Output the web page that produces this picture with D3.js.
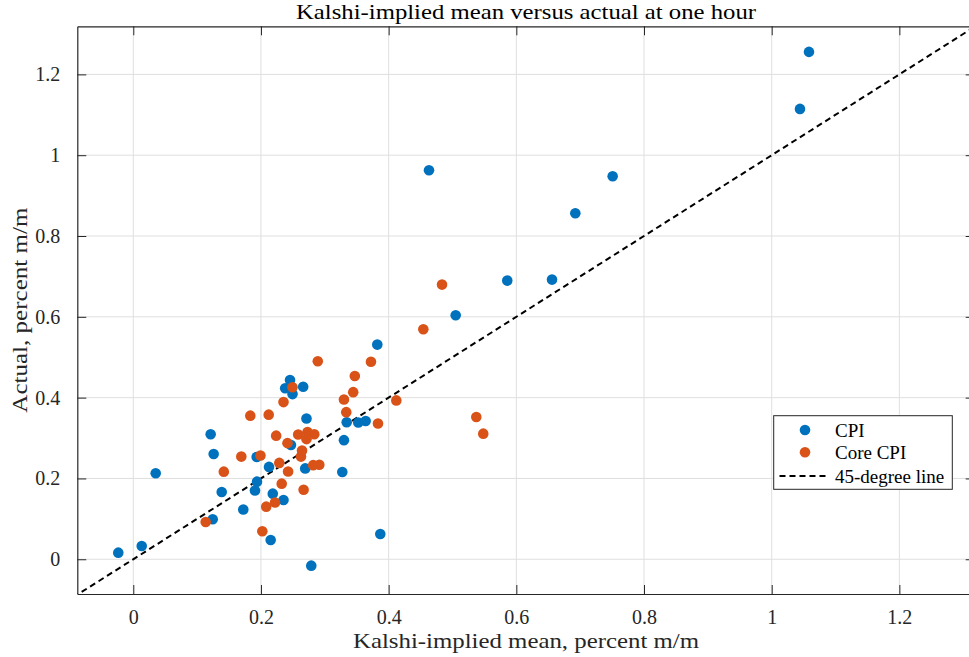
<!DOCTYPE html>
<html>
<head>
<meta charset="utf-8">
<script src="https://cdn.jsdelivr.net/npm/d3@7/dist/d3.min.js"></script>
<style>
  html, body { margin: 0; padding: 0; background: #fff; }
  svg { display: block; }
  text { font-family: "Liberation Serif", "DejaVu Serif", serif; }
</style>
</head>
<body>
<svg id="chart" width="969" height="657"></svg>
<script>
// ---- Data ----
const cpiX = [-0.0235, 0.0132, 0.0351, 0.1212, 0.1259, 0.1385, 0.1723, 0.1244, 0.1933, 0.1938,
              0.1906, 0.2126, 0.2185, 0.2353, 0.2152, 0.2788, 0.2455, 0.2379, 0.2661, 0.2494,
              0.2713, 0.2470, 0.2693, 0.3300, 0.3274, 0.3343, 0.3524, 0.3640, 0.3822, 0.3869,
              0.4632, 0.5050, 0.5858, 0.6559, 0.6924, 0.7509, 1.0443, 1.0584];
const cpiY = [0.0163, 0.0329, 0.2129, 0.3094, 0.2606, 0.1666, 0.1233, 0.0990, 0.2532, 0.1921,
              0.1703, 0.2285, 0.1624, 0.1468, 0.0478, -0.0158, 0.4438, 0.4233, 0.4270, 0.4087,
              0.3485, 0.2829, 0.2248, 0.2948, 0.2161, 0.3391, 0.3386, 0.3423, 0.5312, 0.0626,
              0.9629, 0.6040, 0.6896, 0.6921, 0.8564, 0.9480, 1.1146, 1.2557];
const coreX = [0.1134, 0.1418, 0.1692, 0.1833, 0.1992, 0.2021, 0.2082, 0.2121, 0.2220, 0.2238,
               0.2287, 0.2325, 0.2353, 0.2415, 0.2425, 0.2494, 0.2583, 0.2627, 0.2643, 0.2668,
               0.2713, 0.2729, 0.2818, 0.2835, 0.2890, 0.2914, 0.3300, 0.3336, 0.3445, 0.3470,
               0.3723, 0.3833, 0.4120, 0.4543, 0.4836, 0.5373, 0.5482];
const coreY = [0.0923, 0.2168, 0.2540, 0.3554, 0.2569, 0.0693, 0.1302, 0.3579, 0.1406, 0.3059,
               0.2384, 0.1871, 0.3889, 0.2874, 0.2173, 0.4257, 0.3087, 0.2540, 0.2693, 0.1720,
               0.2973, 0.3151, 0.2329, 0.3094, 0.4901, 0.2339, 0.3955, 0.3641, 0.4136, 0.4537,
               0.4889, 0.3361, 0.3931, 0.5693, 0.6797, 0.3522, 0.3109];
const lineVals = [-0.2, 1.5];           // 45-degree line endpoints (x = y)
const xTicks = [0, 0.2, 0.4, 0.6, 0.8, 1, 1.2];
const xTickLabels = ["0", "0.2", "0.4", "0.6", "0.8", "1", "1.2"];
const yTicks = [0, 0.2, 0.4, 0.6, 0.8, 1, 1.2];
const yTickLabels = ["0", "0.2", "0.4", "0.6", "0.8", "1", "1.2"];
const seriesNames = ["CPI", "Core CPI", "45-degree line"];
const titleText = "Kalshi-implied mean versus actual at one hour";
const xLabelText = "Kalshi-implied mean, percent m/m";
const yLabelText = "Actual, percent m/m";

// ---- Layout ----
const svg = d3.select("#chart");
const L = 77.3, T = 26.3, R = 974.7, B = 594;
const x = d3.scaleLinear().domain([-0.0877, 1.318]).range([L, R]);
const y = d3.scaleLinear().domain([-0.086, 1.319]).range([B, T]);
const blue = "#0072BD", orange = "#D95319", axisCol = "#262626";

// clip
svg.append("defs").append("clipPath").attr("id", "clip")
  .append("rect").attr("x", L).attr("y", T).attr("width", R - L).attr("height", B - T);

// grid
const grid = svg.append("g");
grid.selectAll(".gx").data(xTicks).enter().append("line")
  .attr("x1", d => x(d)).attr("x2", d => x(d)).attr("y1", T).attr("y2", B)
  .attr("stroke", "#dfdfdf").attr("stroke-width", 1);
grid.selectAll(".gy").data(yTicks).enter().append("line")
  .attr("y1", d => y(d)).attr("y2", d => y(d)).attr("x1", L).attr("x2", R)
  .attr("stroke", "#dfdfdf").attr("stroke-width", 1);

// 45-degree line
const plot = svg.append("g").attr("clip-path", "url(#clip)");
plot.append("line")
  .attr("x1", x(lineVals[0])).attr("y1", y(lineVals[0]))
  .attr("x2", x(lineVals[1])).attr("y2", y(lineVals[1]))
  .attr("stroke", "#000").attr("stroke-width", 2).attr("stroke-dasharray", "6,4");

// points
const cpi = cpiX.map((v, i) => [v, cpiY[i]]);
const core = coreX.map((v, i) => [v, coreY[i]]);
plot.selectAll(".cpi").data(cpi).enter().append("circle")
  .attr("cx", d => x(d[0])).attr("cy", d => y(d[1])).attr("r", 5.3).attr("fill", blue);
plot.selectAll(".core").data(core).enter().append("circle")
  .attr("cx", d => x(d[0])).attr("cy", d => y(d[1])).attr("r", 5.3).attr("fill", orange);

// axes (box with inward ticks on all sides)
const tl = 9;
const axB = svg.append("g").attr("transform", `translate(0,${B})`)
  .call(d3.axisBottom(x).tickValues(xTicks).tickFormat((d, i) => xTickLabels[i]).tickSizeInner(-tl).tickSizeOuter(0).tickPadding(16));
const axT = svg.append("g").attr("transform", `translate(0,${T})`)
  .call(d3.axisTop(x).tickValues(xTicks).tickFormat("").tickSizeInner(-tl).tickSizeOuter(0));
const axL = svg.append("g").attr("transform", `translate(${L},0)`)
  .call(d3.axisLeft(y).tickValues(yTicks).tickFormat((d, i) => yTickLabels[i]).tickSizeInner(-tl).tickSizeOuter(0).tickPadding(17));
const axR = svg.append("g").attr("transform", `translate(${R},0)`)
  .call(d3.axisRight(y).tickValues(yTicks).tickFormat("").tickSizeInner(-tl).tickSizeOuter(0));
[axB, axT, axL, axR].forEach(a => {
  a.select(".domain").attr("stroke", axisCol).attr("stroke-width", 1.2);
  a.selectAll(".tick line").attr("stroke", axisCol).attr("stroke-width", 1);
  a.selectAll(".tick text").attr("fill", axisCol).style("font-size", "20px")
    .style("font-family", '"Liberation Serif", serif');
});
axB.selectAll(".tick text").attr("dy", "0.71em");

// title and labels
svg.append("text").attr("x", (L + R) / 2).attr("y", 19).attr("text-anchor", "middle")
  .style("font-size", "21px").attr("fill", "#000")
  .attr("textLength", 460).attr("lengthAdjust", "spacingAndGlyphs").text(titleText);
svg.append("text").attr("x", (L + R) / 2).attr("y", 648).attr("text-anchor", "middle")
  .style("font-size", "22px").attr("fill", axisCol)
  .attr("textLength", 346).attr("lengthAdjust", "spacingAndGlyphs").text(xLabelText);
svg.append("text").attr("transform", `translate(27,${(T + B) / 2}) rotate(-90)`)
  .attr("text-anchor", "middle").style("font-size", "22px").attr("fill", axisCol)
  .attr("textLength", 205).attr("lengthAdjust", "spacingAndGlyphs").text(yLabelText);

// legend
const lg = svg.append("g");
lg.append("rect").attr("x", 773.7).attr("y", 415.7).attr("width", 178.6).attr("height", 73.6)
  .attr("fill", "#fff").attr("stroke", axisCol).attr("stroke-width", 1);
const rows = [430, 452.3, 476];
lg.append("circle").attr("cx", 805).attr("cy", rows[0]).attr("r", 5.3).attr("fill", blue);
lg.append("circle").attr("cx", 805).attr("cy", rows[1]).attr("r", 5.3).attr("fill", orange);
lg.append("line").attr("x1", 779.5).attr("x2", 827.5).attr("y1", rows[2]).attr("y2", rows[2])
  .attr("stroke", "#000").attr("stroke-width", 2).attr("stroke-dasharray", "6,4");
seriesNames.forEach((n, i) => {
  lg.append("text").attr("x", 835).attr("y", rows[i]).attr("dy", "0.35em")
    .style("font-size", "19px").attr("fill", "#000").text(n);
});
</script>
</body>
</html>
